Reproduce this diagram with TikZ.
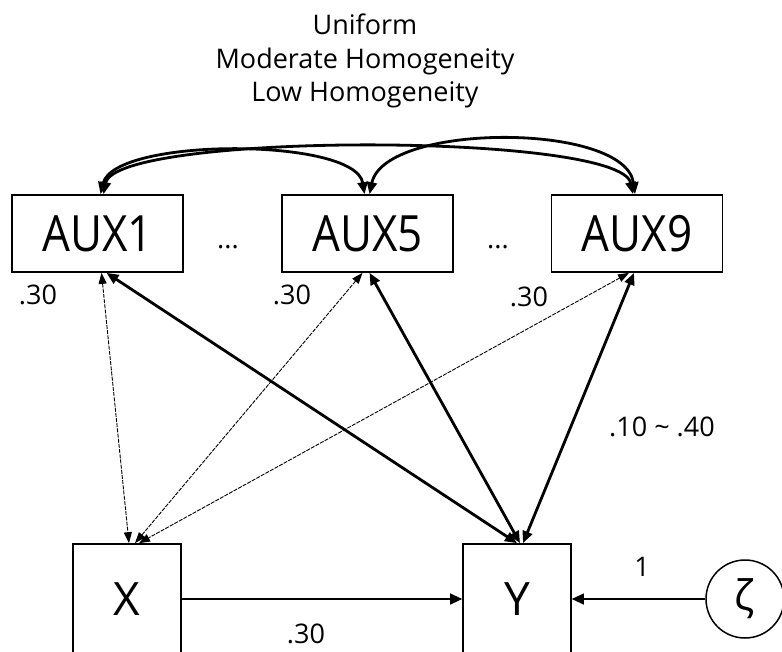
\documentclass[tikz,border=0pt]{standalone}
\usepackage{fontspec}
\setmainfont{Open Sans}
\newfontfamily\auxfont[FakeStretch=0.88]{Open Sans}
\usetikzlibrary{arrows.meta,calc}
\begin{document}
\begin{tikzpicture}[x=1pt,y=-1pt,
  box/.style={draw, line width=1.7pt, inner sep=0pt},
  auxbox/.style={box, minimum width=171pt, minimum height=77pt, font=\auxfont\fontsize{50}{50}\selectfont},
  obsbox/.style={box, minimum width=108pt, minimum height=110pt, font=\fontsize{46}{46}\selectfont},
  lbl/.style={font=\fontsize{27}{27}\selectfont, inner sep=0pt},
  ttl/.style={font=\fontsize{27}{27}\selectfont, inner sep=0pt, anchor=base},
  thickcov/.style={line width=2.8pt, {Triangle[length=12pt,width=10pt]}-{Triangle[length=12pt,width=10pt]}},
  thincov/.style={line width=0.9pt, dash pattern=on 4pt off 1.2pt, {Triangle[length=11pt,width=8pt]}-{Triangle[length=11pt,width=8pt]}},
  path1/.style={line width=1.3pt, -{Triangle[length=12pt,width=11pt]}},
]
\fill[white] (0,0) rectangle (782,651);
\useasboundingbox (0,0) rectangle (782,651);
\clip (0,0) rectangle (782,651);

\node[ttl] (t1) at (365,34) {Uniform};
\node[ttl] (t2) at (365,68) {Moderate Homogeneity};
\node[ttl] (t3) at (365,101) {Low Homogeneity};

\node[auxbox] (a1) at (97.5,233.5) {AUX1};
\node[auxbox] (a5) at (367.5,233.5) {AUX5};
\node[auxbox] (a9) at (637,233.5) {AUX9};

\node[lbl] (d1) at (228,247) {...};
\node[lbl] (d2) at (498,247) {...};

\node[obsbox] (x) at (127,599) {X};
\node[obsbox] (y) at (517,599) {Y};
\node[circle, draw, line width=1.5pt, minimum size=78pt, inner sep=0pt, font=\fontsize{42}{42}\selectfont] (z) at (745,599) {ζ};

\node[lbl] (l1) at (38,295) {.30};
\node[lbl] (l5) at (292,295) {.30};
\node[lbl] (l9) at (529,297) {.30};
\node[lbl] (lxy) at (306,634) {.30};
\node[lbl] (lz) at (642,567) {1};
\node[lbl] (lr) at (662,427) {.10 \textasciitilde{} .40};

% covariances among auxiliaries
\draw[thickcov] ($(a1.north)+(3,0)$) .. controls ($(a1.north)+(17,-57)$) and ($(a5.north)+(-12,-57)$) .. ($(a5.north)+(-3,0)$);
\draw[thickcov] ($(a1.north)+(6,0)$) .. controls ($(a1.north)+(18,-62)$) and ($(a9.north)+(-17,-62)$) .. ($(a9.north)+(-4,0)$);
\draw[thickcov] ($(a5.north)+(2,0)$) .. controls ($(a5.north)+(17,-72)$) and ($(a9.north)+(-12,-72)$) .. ($(a9.north)+(-2,0)$);

% auxiliaries with X (thin)
\draw[thincov] ($(a1.south)+(4,0)$) -- ($(x.north)+(2,0)$);
\draw[thincov] ($(a5.south)+(-5,0)$) -- ($(x.north)+(8,0)$);
\draw[thincov] ($(a9.south)+(-8,0)$) -- ($(x.north)+(12,0)$);

% auxiliaries with Y (thick)
\draw[thickcov] ($(a1.south)+(9,0)$) -- ($(y.north)+(0,0)$);
\draw[thickcov] ($(a5.south)+(2,0)$) -- ($(y.north)+(3,0)$);
\draw[thickcov] ($(a9.south)+(-3,0)$) -- ($(y.north)+(6,0)$);

% regressions
\draw[path1] (x.east) -- (y.west);
\draw[path1] (z.west) -- (y.east);
\end{tikzpicture}
\end{document}
